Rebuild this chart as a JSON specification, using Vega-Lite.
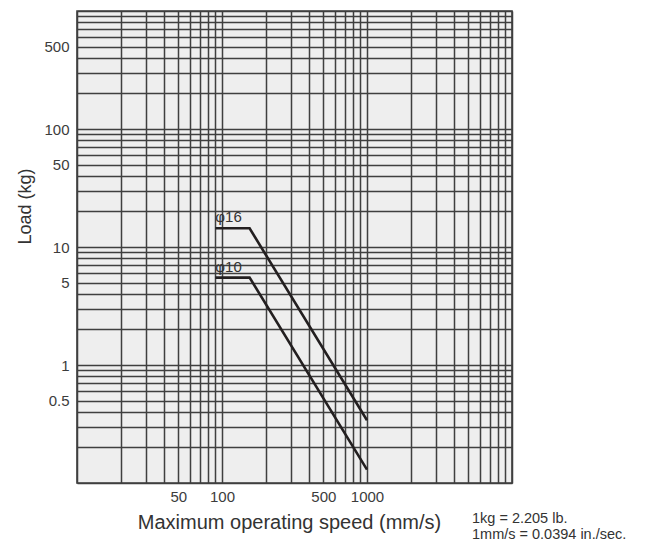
{
  "$schema": "https://vega.github.io/schema/vega-lite/v6.json",
  "width": 435,
  "height": 472,
  "autosize": {"type": "none"},
  "padding": {"left": 77, "top": 11, "right": 139, "bottom": 61},
  "background": "#ffffff",
  "config": {
    "font": "Liberation Sans",
    "view": {"stroke": "#3f3f3f", "strokeWidth": 1.6, "fill": "#eeeeee"}
  },
  "title": {
    "text": ["1kg = 2.205 lb.", "1mm/s = 0.0394 in./sec."],
    "orient": "bottom",
    "anchor": "end",
    "frame": "group",
    "align": "left",
    "dx": -40,
    "offset": -20,
    "fontSize": 14.5,
    "fontWeight": "normal",
    "color": "#333333",
    "lineHeight": 16
  },
  "datasets": {
    "curves": [
      {"series": "φ16", "speed": 90, "load": 14.4},
      {"series": "φ16", "speed": 155, "load": 14.4},
      {"series": "φ16", "speed": 1000, "load": 0.34},
      {"series": "φ10", "speed": 90, "load": 5.5},
      {"series": "φ10", "speed": 155, "load": 5.5},
      {"series": "φ10", "speed": 1000, "load": 0.13}
    ],
    "labels": [
      {"label": "φ16", "speed": 90, "load": 14.4},
      {"label": "φ10", "speed": 90, "load": 5.5}
    ]
  },
  "encoding": {
    "x": {
      "field": "speed",
      "type": "quantitative",
      "scale": {"type": "log", "domain": [10, 10000], "nice": false},
      "axis": {
        "values": [10, 20, 30, 40, 50, 60, 70, 80, 90, 100, 200, 300, 400, 500, 600, 700, 800, 900, 1000, 2000, 3000, 4000, 5000, 6000, 7000, 8000, 9000, 10000],
        "labelExpr": "(datum.value == 50 || datum.value == 100 || datum.value == 500 || datum.value == 1000) ? ('' + datum.value) : ''",
        "grid": true,
        "gridColor": "#3f3f3f",
        "gridWidth": 1.5,
        "gridOpacity": 1,
        "ticks": false,
        "domain": false,
        "labelFontSize": 15,
        "labelColor": "#3c3c3c",
        "labelPadding": 6,
        "labelFlush": false,
        "labelOverlap": false,
        "title": "Maximum operating speed (mm/s)",
        "titleFontSize": 20,
        "titleFontWeight": "normal",
        "titleColor": "#333333",
        "titlePadding": 8,
        "titleX": 212
      }
    },
    "y": {
      "field": "load",
      "type": "quantitative",
      "scale": {"type": "log", "domain": [0.1, 1000], "nice": false},
      "axis": {
        "values": [0.1, 0.2, 0.3, 0.4, 0.5, 0.6, 0.7, 0.8, 0.9, 1, 2, 3, 4, 5, 6, 7, 8, 9, 10, 20, 30, 40, 50, 60, 70, 80, 90, 100, 200, 300, 400, 500, 600, 700, 800, 900, 1000],
        "labelExpr": "(datum.value == 0.5 || datum.value == 1 || datum.value == 5 || datum.value == 10 || datum.value == 50 || datum.value == 100 || datum.value == 500) ? ('' + datum.value) : ''",
        "grid": true,
        "gridColor": "#3f3f3f",
        "gridWidth": 1.5,
        "gridOpacity": 1,
        "ticks": false,
        "domain": false,
        "labelFontSize": 15,
        "labelColor": "#3c3c3c",
        "labelPadding": 8,
        "labelFlush": false,
        "labelOverlap": false,
        "title": "Load (kg)",
        "titleFontSize": 18,
        "titleFontWeight": "normal",
        "titleColor": "#333333",
        "titlePadding": 9,
        "titleY": 195
      }
    }
  },
  "layer": [
    {
      "data": {"name": "curves"},
      "mark": {"type": "line", "color": "#231f20", "strokeWidth": 2.6},
      "encoding": {"detail": {"field": "series"}}
    },
    {
      "data": {"name": "labels"},
      "mark": {"type": "text", "align": "left", "baseline": "bottom", "dy": -3, "fontSize": 15, "color": "#333333"},
      "encoding": {"text": {"field": "label"}}
    }
  ]
}
